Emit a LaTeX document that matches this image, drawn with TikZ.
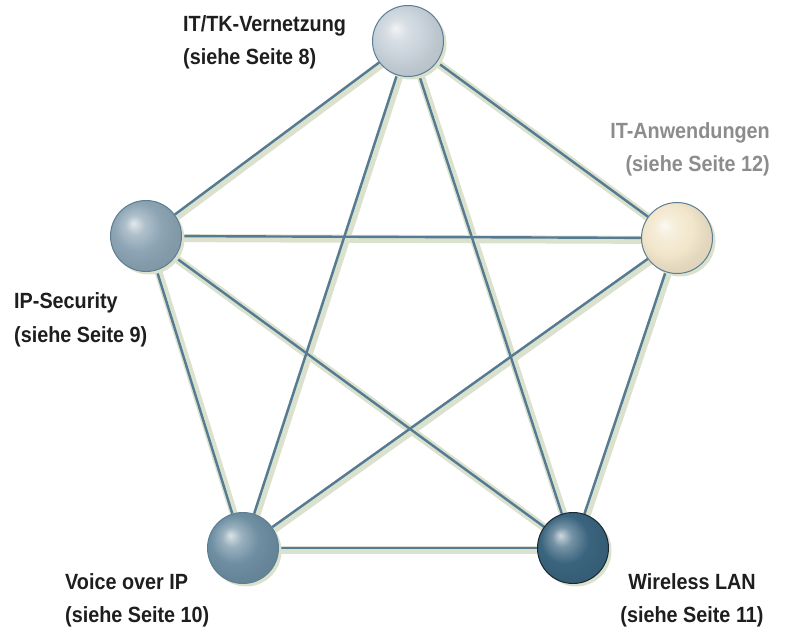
\documentclass[tikz,border=0pt]{standalone}
\usepackage{fontspec}
\usepackage{tikz}
\usetikzlibrary{shadows,backgrounds}
\newfontfamily\labelfont[FakeStretch=0.9]{Liberation Sans Bold}
\definecolor{colTop}{RGB}{200,210,218}
\definecolor{colLeft}{RGB}{140,164,180}
\definecolor{colRight}{RGB}{242,230,203}
\definecolor{colVoice}{RGB}{110,142,162}
\definecolor{colWlan}{RGB}{58,100,126}
\definecolor{colRim}{RGB}{92,126,148}
\definecolor{colDark}{RGB}{25,40,50}
\definecolor{colShade}{RGB}{218,225,205}
\definecolor{colTube}{RGB}{84,122,148}
\definecolor{colCore}{RGB}{226,234,238}
\definecolor{colGrey}{RGB}{140,140,140}
\definecolor{colText}{RGB}{30,30,30}
\pgfdeclareradialshading[sphcol]{sphere}{\pgfqpoint{-9bp}{9bp}}{color(0bp)=(sphcol!25!white); color(7bp)=(sphcol!70!white); color(17bp)=(sphcol); color(25bp)=(sphcol!94!black); color(50bp)=(sphcol!85!black)}
\tikzset{sphere color/.style={/utils/exec={\colorlet{sphcol}{#1}}, shading=sphere}}
\tikzstyle{ball}=[circle, minimum size=71pt, inner sep=0pt, draw=colRim, line width=1pt, drop shadow={shadow xshift=3pt, shadow yshift=-3pt, fill=colShade, opacity=1}]
\tikzstyle{tube}=[draw=colTube, double=colCore, double distance=3.2pt, line width=2.4pt]
\tikzstyle{tubeshadow}=[draw=colShade, line width=8pt]
\tikzstyle{lbl}=[inner sep=0pt, text=colText, font=\labelfont\fontsize{22}{33}\selectfont]

\begin{document}
\begin{tikzpicture}[x=1pt,y=1pt]
    \useasboundingbox (0,0) rectangle (790,630);
    \node [ball, sphere color=colTop] (a) at (408,589) {};
    \node [ball, sphere color=colLeft] (b) at (146,394) {};
    \node [ball, sphere color=colRight] (c) at (677,392) {};
    \node [ball, sphere color=colVoice] (d) at (243,82) {};
    \node [ball, sphere color=colWlan, draw=colDark] (e) at (573,82) {};
    \node [lbl, align=left, anchor=base west] (la) at (183,565) {IT/TK-Vernetzung\\(siehe Seite 8)};
    \node [lbl, align=right, anchor=base east, text=colGrey] (lc) at (770,458) {IT-Anwendungen\\(siehe Seite 12)};
    \node [lbl, align=left, anchor=base west] (lb) at (14,288) {IP-Security\\(siehe Seite 9)};
    \node [lbl, align=left, anchor=base west] (ld) at (65,8) {Voice over IP\\(siehe Seite 10)};
    \node [lbl, align=center, anchor=base] (le) at (692,8) {Wireless LAN\\(siehe Seite 11)};
    \begin{pgfonlayer}{background}
    \begin{scope}[transform canvas={xshift=2pt,yshift=-2pt}]
    \path[tubeshadow]
    (a) edge (b) (a) edge (c) (a) edge (d) (a) edge (e)
    (b) edge (c) (b) edge (d) (b) edge (e)
    (c) edge (d) (c) edge (e)
    (d) edge (e);
    \end{scope}
    \path[tube]
    (a) edge (b) (a) edge (c) (a) edge (d) (a) edge (e)
    (b) edge (c) (b) edge (d) (b) edge (e)
    (c) edge (d) (c) edge (e)
    (d) edge (e);
    \end{pgfonlayer}
\end{tikzpicture}
\end{document}
